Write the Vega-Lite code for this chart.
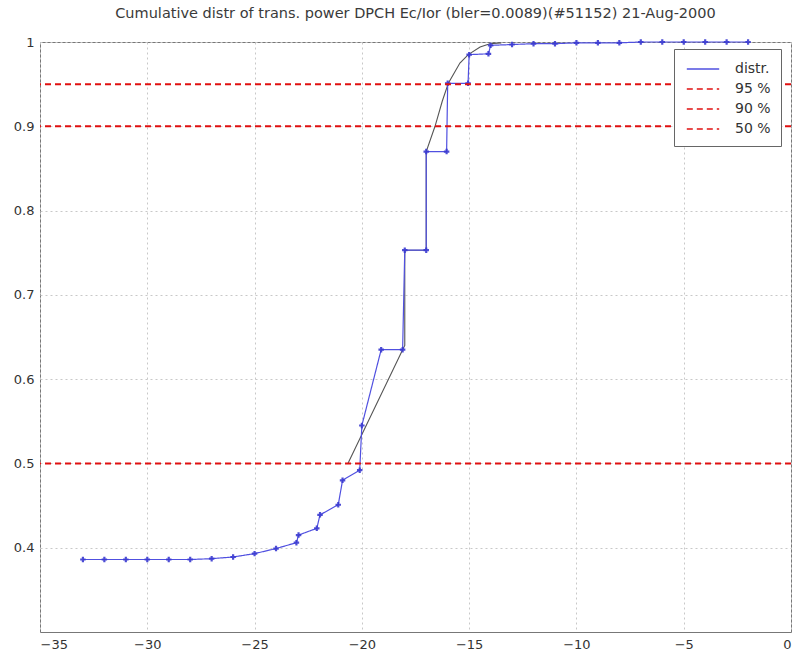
{
  "$schema": "https://vega.github.io/schema/vega-lite/v6.json",
  "width": 751,
  "height": 590,
  "autosize": {"type": "none"},
  "padding": {"left": 40, "top": 42, "right": 4, "bottom": 27},
  "background": "white",
  "title": {
    "text": "Cumulative distr of trans. power DPCH Ec/Ior (bler=0.0089)(#51152) 21-Aug-2000",
    "font": "DejaVu Sans",
    "fontSize": 14.5,
    "fontWeight": "normal",
    "color": "#3a3a3a",
    "anchor": "middle",
    "offset": 15
  },
  "datasets": {
    "distr": [
      {"x": -33, "y": 0.386, "series": "distr."},
      {"x": -32, "y": 0.386, "series": "distr."},
      {"x": -31, "y": 0.386, "series": "distr."},
      {"x": -30, "y": 0.386, "series": "distr."},
      {"x": -29, "y": 0.386, "series": "distr."},
      {"x": -28, "y": 0.386, "series": "distr."},
      {"x": -27, "y": 0.387, "series": "distr."},
      {"x": -26, "y": 0.389, "series": "distr."},
      {"x": -25, "y": 0.393, "series": "distr."},
      {"x": -24, "y": 0.399, "series": "distr."},
      {"x": -23.05, "y": 0.406, "series": "distr."},
      {"x": -22.95, "y": 0.415, "series": "distr."},
      {"x": -22.1, "y": 0.423, "series": "distr."},
      {"x": -21.95, "y": 0.439, "series": "distr."},
      {"x": -21.1, "y": 0.451, "series": "distr."},
      {"x": -20.9, "y": 0.48, "series": "distr."},
      {"x": -20.1, "y": 0.492, "series": "distr."},
      {"x": -20.0, "y": 0.545, "series": "distr."},
      {"x": -19.1, "y": 0.635, "series": "distr."},
      {"x": -18.1, "y": 0.635, "series": "distr."},
      {"x": -18.0, "y": 0.753, "series": "distr."},
      {"x": -17.0, "y": 0.753, "series": "distr."},
      {"x": -17.0, "y": 0.87, "series": "distr."},
      {"x": -16.05, "y": 0.87, "series": "distr."},
      {"x": -16.0, "y": 0.951, "series": "distr."},
      {"x": -15.05, "y": 0.951, "series": "distr."},
      {"x": -15.0, "y": 0.985, "series": "distr."},
      {"x": -14.1, "y": 0.986, "series": "distr."},
      {"x": -14.0, "y": 0.996, "series": "distr."},
      {"x": -13, "y": 0.997, "series": "distr."},
      {"x": -12, "y": 0.998, "series": "distr."},
      {"x": -11, "y": 0.998, "series": "distr."},
      {"x": -10, "y": 0.999, "series": "distr."},
      {"x": -9, "y": 0.999, "series": "distr."},
      {"x": -8, "y": 0.999, "series": "distr."},
      {"x": -7, "y": 1.0, "series": "distr."},
      {"x": -6, "y": 1.0, "series": "distr."},
      {"x": -5, "y": 1.0, "series": "distr."},
      {"x": -4, "y": 1.0, "series": "distr."},
      {"x": -3, "y": 1.0, "series": "distr."},
      {"x": -2, "y": 1.0, "series": "distr."}
    ],
    "fit": [
      {"x": -20.65, "y": 0.5},
      {"x": -18.1, "y": 0.635},
      {"x": -18.0, "y": 0.64},
      {"x": -18.0, "y": 0.753},
      {"x": -17.0, "y": 0.753},
      {"x": -17.0, "y": 0.87},
      {"x": -16.59, "y": 0.9},
      {"x": -16.25, "y": 0.93},
      {"x": -15.97, "y": 0.951},
      {"x": -15.43, "y": 0.975},
      {"x": -15.04, "y": 0.985},
      {"x": -14.49, "y": 0.994},
      {"x": -14.03, "y": 0.998},
      {"x": -13.5, "y": 0.999}
    ],
    "refs": [
      {"p": 0.95, "series": "95 %"},
      {"p": 0.9, "series": "90 %"},
      {"p": 0.5, "series": "50 %"}
    ]
  },
  "layer": [
    {
      "data": {"name": "fit"},
      "mark": {"type": "line", "color": "#555555", "strokeWidth": 1.1},
      "encoding": {
        "x": {"field": "x", "type": "quantitative", "sort": null,
          "scale": {"domain": [-35, 0], "nice": false, "zero": false},
          "axis": {"values": [-35, -30, -25, -20, -15, -10, -5, 0], "format": "d", "labelPadding": 6}},
        "y": {"field": "y", "type": "quantitative",
          "scale": {"domain": [0.3, 1], "nice": false, "zero": false},
          "axis": {"values": [0.4, 0.5, 0.6, 0.7, 0.8, 0.9, 1], "labelExpr": "datum.value == 1 ? '1' : format(datum.value, '.1f')", "labelPadding": 6}},
        "order": {"value": null}
      }
    },
    {
      "data": {"name": "distr"},
      "mark": {"type": "line", "strokeWidth": 1.2},
      "encoding": {
        "x": {"field": "x", "type": "quantitative"},
        "y": {"field": "y", "type": "quantitative"},
        "order": {"value": null},
        "color": {"field": "series", "type": "nominal", "title": null,
          "scale": {"domain": ["distr.", "95 %", "90 %", "50 %"], "range": ["#5050e0", "#e01010", "#e01010", "#e01010"]}},
        "strokeDash": {"field": "series", "type": "nominal", "title": null,
          "scale": {"domain": ["distr.", "95 %", "90 %", "50 %"], "range": [[1, 0], [6, 4], [6, 4], [6, 4]]}}
      }
    },
    {
      "data": {"name": "distr"},
      "mark": {"type": "point", "shape": "cross", "filled": true, "size": 30, "color": "#3a3ad0", "opacity": 0.9},
      "encoding": {
        "x": {"field": "x", "type": "quantitative"},
        "y": {"field": "y", "type": "quantitative"}
      }
    },
    {
      "data": {"name": "refs"},
      "mark": {"type": "rule", "strokeWidth": 2},
      "encoding": {
        "y": {"field": "p", "type": "quantitative"},
        "color": {"field": "series", "type": "nominal", "title": null},
        "strokeDash": {"field": "series", "type": "nominal", "title": null}
      }
    }
  ],
  "config": {
    "view": {"stroke": "#777777", "strokeWidth": 1},
    "axis": {
      "title": null,
      "domain": false,
      "ticks": false,
      "grid": true,
      "gridColor": "#c8c8c8",
      "gridDash": [2, 3],
      "gridWidth": 1,
      "labelFont": "DejaVu Sans",
      "labelFontSize": 13,
      "labelColor": "#333333"
    },
    "legend": {
      "orient": "none",
      "legendX": 634,
      "legendY": 7,
      "padding": 10,
      "strokeColor": "#666666",
      "fillColor": "white",
      "symbolType": "M-0.8,0H2.8",
      "symbolSize": 324,
      "symbolStrokeWidth": 1.5,
      "labelFont": "DejaVu Sans",
      "labelFontSize": 14,
      "labelColor": "#333333",
      "labelOffset": 31,
      "rowPadding": 3
    }
  }
}
